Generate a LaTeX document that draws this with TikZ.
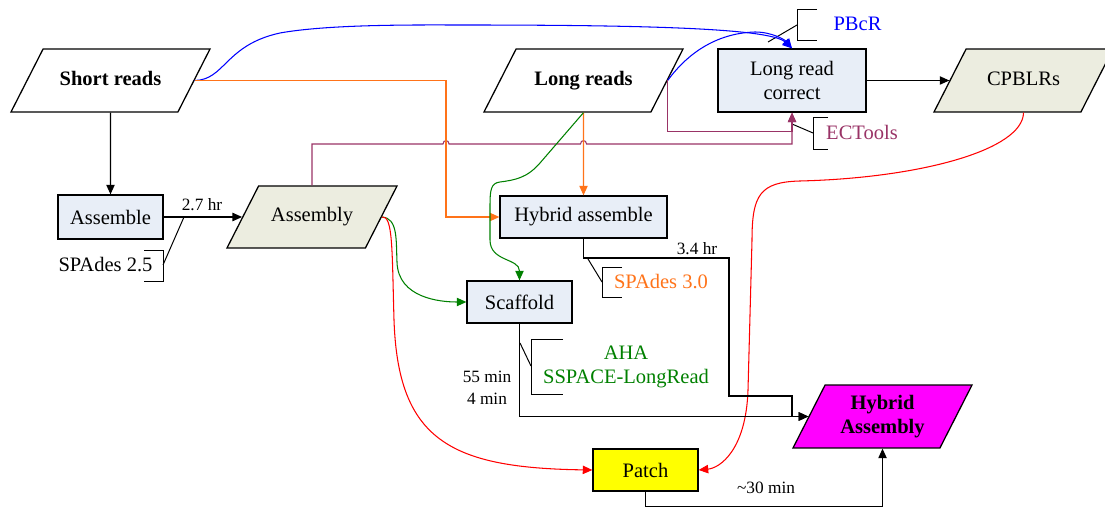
\documentclass[tikz,border=0pt]{standalone}
\usepackage{fontspec}
\setmainfont{Liberation Serif}
\usetikzlibrary{shapes.geometric, arrows.meta, calc}
\definecolor{procfill}{RGB}{232,238,247}
\definecolor{datafill}{RGB}{236,237,224}
\definecolor{ecpurple}{RGB}{153,51,102}
\definecolor{spaorange}{RGB}{255,115,25}
\definecolor{ahagreen}{RGB}{0,128,0}
\definecolor{resultfill}{RGB}{255,0,255}
\definecolor{patchfill}{RGB}{255,255,0}
\newcommand\mainsize{\fontsize{14.6}{17}\selectfont}
\newcommand\smallsize{\fontsize{12.3}{15.5}\selectfont}
\tikzset{
>={Triangle[length=2.4mm, width=2.1mm]}, % filled arrow heads
every node/.style={font=\mainsize},
process/.style={draw, line width=0.9pt, fill=procfill, minimum height=10.5mm, inner sep=2pt, align=center}, % a pipeline step
data/.style={trapezium, trapezium left angle=63, trapezium right angle=117, trapezium stretches body,
  draw, line width=0.9pt, text height=10.5pt, text depth=3.5pt, inner xsep=2pt, inner ysep=15.4pt}, % reads and results
link/.style={->, line width=0.75pt},
note/.style={line width=0.7pt}, % leaders and brackets of the tool names
timing/.style={font=\smallsize, align=center},
}

\begin{document}
\begin{tikzpicture}[x=0.25mm, y=-0.25mm]
\useasboundingbox (0,0) rectangle (1105,507);

% reads and results
\node[data, minimum width=49.75mm, font=\mainsize\bfseries] (sr) at (110.5,80.5) {Short reads};
\node[data, minimum width=49.75mm, font=\mainsize\bfseries] (lr) at (583.5,80.5) {Long reads};
\node[data, fill=datafill, minimum width=44.75mm] (cp) at (1023.5,80.5) {CPBLRs};
\node[data, fill=datafill, minimum width=42.5mm, inner ysep=15.05pt] (asm) at (312,217) {Assembly};
\node[data, fill=resultfill, minimum width=44.75mm, font=\mainsize\bfseries] (hy) at (882.5,416.5)
  {\begin{tabular}{@{}c@{}}Hybrid\\Assembly\end{tabular}};

% steps
\node[process, minimum width=37mm, minimum height=15.75mm] (lrc) at (792,80.5) {Long read\\correct};
\node[process, minimum width=26.25mm, minimum height=11mm] (asb) at (110.5,217) {Assemble};
\node[process, minimum width=41.75mm] (ha) at (583.5,217) {Hybrid assemble};
\node[process, minimum width=26.25mm] (sc) at (519.5,302) {Scaffold};
\node[process, fill=patchfill, minimum width=26.25mm] (pa) at (645.5,470) {Patch};

% run times
\node[timing] (t27) at (202,205) {2.7 hr};
\node[timing] (t34) at (697,249) {3.4 hr};
\node[timing] (tsc) at (487,388) {55 min\\4 min};
\node[timing] (t30) at (766,488) {\textasciitilde30 min};

% tools
\node[text=blue] (pbcr) at (857.5,24) {PBcR};
\node[text=ecpurple] (ect) at (862,132) {ECTools};
\node (spa25) at (105.5,265) {SPAdes 2.5};
\node[text=spaorange] (spa30) at (661,282) {SPAdes 3.0};
\node[text=ahagreen, align=center] (aha) at (626,367) {AHA\\SSPACE-LongRead};

\draw[note] (817,9) -| (797,40) -- (817,40);
\draw[note] (797,25) -- (768,42);
\draw[note] (828,117) -| (813,149) -- (828,149);
\draw[note] (813,133) -- (792,124);
\draw[note] (144,250) -| (163,281) -- (144,281);
\draw[note] (163,265) -- (184,217);
\draw[note] (622,267) -| (602,297) -- (622,297);
\draw[note] (602,282) -- (588,259);
\draw[note] (563,339) -| (531,394) -- (563,394);
\draw[note] (531,366) -- (520,343);

% short read assembly
\draw[link] (sr.south) -- (asb.north);
\draw[link] (asb.east) -- (asm.left side);

% PBcR correction
\draw[link, blue] (sr.right side) .. controls (225,80) and (225,45) .. (280,33)
  .. controls (330,24) and (420,25) .. (460,25) .. controls (640,25) and (770,28) .. (lrc.north);
\draw[link, blue] (lr.right side) .. controls (690,50) and (720,33) .. (755,32)
  .. controls (772,32) and (785,40) .. (lrc.north);

% ECTools correction
\coordinate (ectin) at ($(lrc.south)+(0,19)$);
\draw[link, ecpurple] (lr.right side) |- (ectin) -- (lrc.south);
\draw[link, ecpurple] (asm.north) |- (443,144) .. controls (443,139.5) and (449,139.5) .. (449,144)
  -- (580.5,144) .. controls (580.5,139.5) and (586.5,139.5) .. (586.5,144) -| (lrc.south);
\draw[link] (lrc.east) -- (cp.left side);

% hybrid assembly
\coordinate (hajoin) at (446,217);
\draw[link, spaorange] (sr.right side) -| (hajoin) -- (ha.west);
\draw[link, spaorange] (lr.south) -- (ha.north);

% scaffolding
\draw[link, ahagreen] (lr.south) -- (540,163) .. controls (527,178) and (515,180) .. (500,182)
  .. controls (491,183) and (490,190) .. (490,205) -- (490,240) .. controls (490,262) and (519.5,258) .. (sc.north);
\draw[link, ahagreen] (asm.right side) .. controls (398,218) and (396,240) .. (397,262)
  .. controls (398,298) and (440,302) .. (sc.west);

% patching
\draw[link, red] (asm.right side) .. controls (393,215) and (392,250) .. (394,320)
  .. controls (398,440) and (450,468) .. (pa.west);
\draw[link, red] (cp.south) .. controls (1023,150) and (920,178) .. (800,181)
  .. controls (760,182) and (752,195) .. (752,240) -- (748,390) .. controls (746,450) and (720,468) .. (pa.east);

% into the hybrid assembly
\draw[link] (ha.south) |- (729,258) |- (792,396) |- (hy.left side);
\draw[link] (sc.south) |- (hy.left side);
\draw[link] (pa.south) -- ++(0,15) -| (hy.south);
\end{tikzpicture}
\end{document}
